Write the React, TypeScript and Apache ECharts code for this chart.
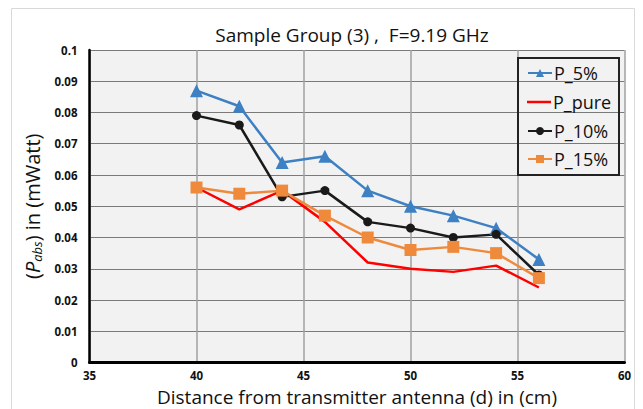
import React, { useEffect, useRef } from "react";
import * as echarts from "echarts";

const distances = [40, 42, 44, 46, 48, 50, 52, 54, 56];
const p5 = [0.087, 0.082, 0.064, 0.066, 0.055, 0.05, 0.047, 0.043, 0.033];
const pPure = [0.056, 0.049, 0.055, 0.045, 0.032, 0.03, 0.029, 0.031, 0.024];
const p10 = [0.079, 0.076, 0.053, 0.055, 0.045, 0.043, 0.04, 0.041, 0.028];
const p15 = [0.056, 0.054, 0.055, 0.047, 0.04, 0.036, 0.037, 0.035, 0.027];
const seriesNames = ["P_5%", "P_pure", "P_10%", "P_15%"];
const seriesColors = ["#3d80c3", "#ff0000", "#1a1a1a", "#ef8a3c"];

const FONT = "'Open Sans', 'Noto Sans', sans-serif";
const legendRowCenters = [73, 102, 131, 159];

function pairs(vals: number[]) {
  return distances.map((d, i) => [d, vals[i]]);
}

export default function App() {
  const ref = useRef<HTMLDivElement>(null);
  useEffect(() => {
    if (!ref.current) return;
    const chart = echarts.init(ref.current, null, { renderer: "svg" });
    const legends = seriesNames.map((name, i) => ({
      orient: "horizontal",
      left: 527,
      top: legendRowCenters[i] - 10,
      padding: 0,
      itemWidth: 24,
      itemHeight: name === "P_pure" ? 2.5 : 10,
      icon: name === "P_pure" ? "rect" : undefined,
      selectedMode: false,
      data: [name],
      textStyle: { fontFamily: FONT, fontSize: 18, lineHeight: 20, color: "#111", padding: [0, 0, 0, -3] },
    }));
    chart.setOption({
      animation: false,
      backgroundColor: "#ffffff",
      title: {
        text: "Sample Group (3) ,  F=9.19 GHz",
        left: 347,
        textAlign: "center",
        top: 20,
        textStyle: { fontFamily: FONT, fontSize: 19, fontWeight: "normal", color: "#111" },
      },
      graphic: [
        {
          type: "rect",
          shape: { x: 11.5, y: 8.5, width: 623, height: 420 },
          style: { fill: "none", stroke: "#d9d9d9", lineWidth: 1 },
          silent: true,
        },
        {
          type: "rect",
          shape: { x: 518, y: 58, width: 101, height: 117 },
          style: { fill: "none", stroke: "#222", lineWidth: 2 },
          silent: true,
          z: 10,
        },
      ],
      legend: legends,
      grid: {
        left: 89.5,
        right: 18.5,
        top: 50,
        bottom: 46.5,
        show: true,
        backgroundColor: "#f2f2f2",
        borderWidth: 0,
        containLabel: false,
        outerBoundsMode: "none",
      },
      xAxis: {
        type: "value",
        min: 35,
        max: 60,
        interval: 5,
        name: "Distance from transmitter antenna (d) in (cm)",
        nameLocation: "middle",
        nameMoveOverlap: false,
        nameGap: 23,
        nameTextStyle: { fontFamily: FONT, fontSize: 19, lineHeight: 22, color: "#111" },
        axisLine: { show: true, lineStyle: { color: "#000", width: 3 } },
        axisTick: { show: false },
        axisLabel: { fontFamily: FONT, fontSize: 11.5, lineHeight: 14, fontWeight: "bold", color: "#111", margin: 6 },
        splitLine: { show: true, lineStyle: { color: "#a0a0a0", width: 1.5 } },
      },
      yAxis: {
        type: "value",
        min: 0,
        max: 0.1,
        interval: 0.01,
        name: "{n|(}{i|P}{s|abs}{n|) in (mWatt)}",
        nameLocation: "middle",
        nameGap: 46,
        nameTextStyle: {
          fontFamily: FONT,
          fontSize: 20,
          color: "#111",
          rich: {
            n: { fontFamily: FONT, fontSize: 20, color: "#111" },
            i: { fontFamily: FONT, fontSize: 20, fontStyle: "italic", color: "#111" },
            s: { fontFamily: FONT, fontSize: 13, fontStyle: "italic", color: "#111", padding: [10, 0, 0, 0] },
          },
        },
        axisLine: { show: true, lineStyle: { color: "#000", width: 2.5 } },
        axisTick: { show: false },
        axisLabel: {
          fontFamily: FONT,
          fontSize: 11.5,
          fontWeight: "bold",
          color: "#111",
          margin: 12,
          formatter: (v: number) => String(Math.round(v * 100) / 100),
        },
        splitLine: { show: true, lineStyle: { color: "#7a7a7a", width: 1 } },
      },
      series: [
        {
          name: seriesNames[0],
          type: "line",
          data: pairs(p5),
          symbol: "triangle",
          symbolSize: 13,
          color: seriesColors[0],
          lineStyle: { width: 2.5, color: seriesColors[0] },
          itemStyle: { color: seriesColors[0] },
        },
        {
          name: seriesNames[1],
          type: "line",
          data: pairs(pPure),
          symbol: "none",
          showSymbol: false,
          color: seriesColors[1],
          lineStyle: { width: 2.5, color: seriesColors[1] },
          itemStyle: { color: seriesColors[1] },
        },
        {
          name: seriesNames[2],
          type: "line",
          data: pairs(p10),
          symbol: "circle",
          symbolSize: 9,
          color: seriesColors[2],
          lineStyle: { width: 2.5, color: seriesColors[2] },
          itemStyle: { color: seriesColors[2] },
        },
        {
          name: seriesNames[3],
          type: "line",
          data: pairs(p15),
          symbol: "rect",
          symbolSize: 12,
          color: seriesColors[3],
          lineStyle: { width: 2.5, color: seriesColors[3] },
          itemStyle: { color: seriesColors[3] },
        },
      ],
    });
    return () => chart.dispose();
  }, []);
  return (
    <div
      ref={ref}
      style={{ position: "fixed", left: 0, top: 0, width: 643, height: 409 }}
    />
  );
}
